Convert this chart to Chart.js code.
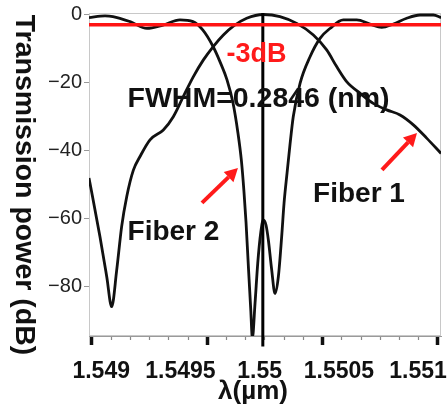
<!DOCTYPE html>
<html>
<head>
<meta charset="utf-8">
<script src="https://cdn.jsdelivr.net/npm/chart.js@4"></script>
<style>
  html, body { margin: 0; padding: 0; background: #fff; }
</style>
</head>
<body>
<canvas id="myChart" width="448" height="415"></canvas>
<script>
// wavelength (µm) / transmission (dB) for the two fibres
const fiber1Wavelength = [
    1.548923, 1.548992, 1.549035, 1.549066, 1.549098, 1.549129, 1.549161, 1.549203,
    1.549245, 1.549308, 1.549392, 1.549455, 1.549518, 1.549581, 1.549644, 1.549707,
    1.549771, 1.549834, 1.549918, 1.550023, 1.550128, 1.550234, 1.550339, 1.550423,
    1.550486, 1.550549, 1.550633, 1.550717, 1.550802, 1.550886, 1.550970, 1.551054,
    1.551145
];
const fiber1Power = [
    -48, -65.2, -77, -85.8, -75, -62.3, -53.5, -45.7,
    -41.7, -36.8, -33.9, -30, -24.1, -18.3, -13.4, -9.4,
    -6, -3.4, -1.1, 0, -0.6, -2.6, -6, -10.4,
    -15.3, -19.7, -23.1, -26.1, -28, -29.5, -32.4, -36.3,
    -40.8
];

const fiber2Wavelength = [
    1.548923, 1.549024, 1.549074, 1.549182, 1.549289, 1.549390, 1.549497, 1.549579,
    1.549642, 1.549706, 1.549750, 1.549794, 1.549832, 1.549863, 1.549885, 1.549901,
    1.549914, 1.549930, 1.549944, 1.549954, 1.549971, 1.549988, 1.550007, 1.550023,
    1.550040, 1.550055, 1.550076, 1.550097, 1.550118, 1.550139, 1.550154, 1.550173,
    1.550192, 1.550212, 1.550255, 1.550318, 1.550381, 1.550444, 1.550528, 1.550613,
    1.550696, 1.550770, 1.550844, 1.550928, 1.551012, 1.551096, 1.551145
];
const fiber2Power = [
    -0.9, -0.4, -0.6, -2.1, -4.1, -3.1, -1.6, -2.1,
    -4.6, -9.4, -13.9, -19.2, -26, -34.8, -43, -52,
    -61, -75, -86.8, -95, -84.7, -73, -64, -60.3,
    -61.8, -66.2, -75, -81.9, -77, -65.2, -55.4, -46.5,
    -38, -30, -20.2, -12.4, -7, -4.1, -1.6, -1.6,
    -2.8, -3.8, -2.8, -1.1, -0.15, -0.15, -0.9
];

const cutoffLevel = -3;          // dB
const centerWavelength = 1.55002; // µm
const xRange = [1.548923, 1.5511445];
const yRange = [-94.4, 0.44];
const xTickValues = [1.549, 1.5495, 1.55, 1.5505, 1.551];
const yTickValues = [-80, -60, -40, -20, 0];

// text and arrows placed in data units
const notes = [
    { text: '-3dB', x: 1.549980, y: -13.9, size: 27, color: '#ff1a1a' },
    { text: 'FWHM=0.2846 (nm)', x: 1.549993, y: -27.2, size: 28.5, color: '#111' },
    { text: 'Fiber 1', x: 1.550627, y: -55, size: 28, color: '#111' },
    { text: 'Fiber 2', x: 1.549456, y: -66.2, size: 28, color: '#111' }
];
const arrows = [
    { from: [1.550772, -45.6], to: [1.550993, -34.8] },
    { from: [1.549636, -55.3], to: [1.549863, -45.1] }
];

const FONT = '"Liberation Sans", Arial, sans-serif';
Chart.defaults.font.family = FONT;

const toPoints = (xs, ys) => xs.map((v, i) => ({ x: v, y: ys[i] }));

function drawArrow(ctx, x1, y1, x2, y2) {
    const ang = Math.atan2(y2 - y1, x2 - x1);
    const headLen = 13, headW = 7;
    const bx = x2 - headLen * Math.cos(ang), by = y2 - headLen * Math.sin(ang);
    ctx.strokeStyle = '#ff1a1a';
    ctx.fillStyle = '#ff1a1a';
    ctx.lineWidth = 4;
    ctx.beginPath();
    ctx.moveTo(x1, y1);
    ctx.lineTo(bx, by);
    ctx.stroke();
    ctx.beginPath();
    ctx.moveTo(x2, y2);
    ctx.lineTo(bx + headW * Math.sin(ang), by - headW * Math.cos(ang));
    ctx.lineTo(bx - headW * Math.sin(ang), by + headW * Math.cos(ang));
    ctx.closePath();
    ctx.fill();
}

const notesPlugin = {
    id: 'notes',
    beforeDatasetsDraw(chart) {
        const { ctx, chartArea: a } = chart;
        ctx.save();
        ctx.strokeStyle = '#c8c8c8';
        ctx.lineWidth = 1;
        ctx.strokeRect(a.left + 0.5, a.top + 0.5, a.width - 1, a.height - 1);
        ctx.restore();
    },
    afterDatasetsDraw(chart) {
        const { ctx, scales: { x, y } } = chart;
        ctx.save();
        arrows.forEach(ar => drawArrow(ctx,
            x.getPixelForValue(ar.from[0]), y.getPixelForValue(ar.from[1]),
            x.getPixelForValue(ar.to[0]), y.getPixelForValue(ar.to[1])));

        ctx.textAlign = 'center';
        ctx.textBaseline = 'alphabetic';
        notes.forEach(n => {
            ctx.font = 'bold ' + n.size + 'px ' + FONT;
            ctx.fillStyle = n.color;
            ctx.fillText(n.text, x.getPixelForValue(n.x), y.getPixelForValue(n.y));
        });

        // axis titles
        ctx.fillStyle = '#111';
        ctx.font = 'bold 26px ' + FONT;
        ctx.fillText('λ(µm)', 253, 399);

        ctx.translate(15.5, 185);
        ctx.rotate(Math.PI / 2);
        ctx.font = 'bold 28.5px ' + FONT;
        ctx.fillText('Transmission power (dB)', 0, 0);
        ctx.restore();
    }
};

const isMajor = c => c.tick && c.tick.value % 6 === 0;

const chart = new Chart(document.getElementById('myChart'), {
    type: 'line',
    data: {
        datasets: [
            {
                label: '-3dB',
                data: [{ x: xRange[0], y: cutoffLevel }, { x: xRange[1], y: cutoffLevel }],
                borderColor: '#ff1414',
                borderWidth: 3.5,
                order: 0
            },
            {
                label: 'center',
                data: [{ x: centerWavelength, y: yRange[1] }, { x: centerWavelength, y: -97.5 }],
                borderColor: '#000',
                borderWidth: 3,
                clip: false,
                order: 1
            },
            {
                label: 'Fiber 1',
                data: toPoints(fiber1Wavelength, fiber1Power),
                borderColor: '#111',
                borderWidth: 2.8,
                cubicInterpolationMode: 'monotone',
                order: 2
            },
            {
                label: 'Fiber 2',
                data: toPoints(fiber2Wavelength, fiber2Power),
                borderColor: '#111',
                borderWidth: 2.8,
                cubicInterpolationMode: 'monotone',
                order: 2
            }
        ]
    },
    options: {
        responsive: false,
        animation: false,
        devicePixelRatio: 1,
        elements: { point: { radius: 0 } },
        layout: { padding: { top: 13, right: 7, left: 0, bottom: 0 } },
        plugins: { legend: { display: false }, tooltip: { enabled: false } },
        scales: {
            x: {
                type: 'linear',
                position: 'bottom',
                weight: 1,
                min: xRange[0],
                max: xRange[1],
                afterBuildTicks: s => { s.ticks = xTickValues.map(v => ({ value: v })); },
                afterFit: s => { s.height = 70; s.paddingLeft = 0; s.paddingRight = 0; },
                ticks: {
                    callback: v => String(v),
                    font: { size: 23, weight: 'bold' },
                    color: '#111',
                    padding: 13,
                    maxRotation: 0,
                    autoSkip: false
                },
                grid: { display: false, drawTicks: false },
                border: { display: false }
            },
            // tick marks along the bottom edge (major every 6th mark)
            xt: {
                type: 'linear',
                position: 'bottom',
                weight: 0,
                min: -0.156,
                max: 18.16,
                afterBuildTicks: s => { s.ticks = Array.from({ length: 19 }, (_, i) => ({ value: i })); },
                afterFit: s => { s.paddingLeft = 0; s.paddingRight = 0; },
                ticks: { display: false },
                grid: {
                    drawOnChartArea: false,
                    drawTicks: true,
                    tickLength: 9,
                    tickWidth: c => isMajor(c) ? 3.5 : 1.2,
                    tickColor: c => isMajor(c) ? '#111' : '#888',
                    tickBorderDash: c => isMajor(c) ? [] : [3, 40]
                },
                border: { display: true, color: '#9a9a9a', width: 1 }
            },
            y: {
                type: 'linear',
                position: 'left',
                min: yRange[0],
                max: yRange[1],
                afterBuildTicks: s => { s.ticks = yTickValues.map(v => ({ value: v })); },
                afterFit: s => { s.width = 89; s.paddingTop = 0; s.paddingBottom = 0; },
                ticks: {
                    callback: v => v < 0 ? '\u2212' + Math.abs(v) : String(v),
                    font: { size: 20 },
                    color: '#222',
                    padding: 2
                },
                grid: {
                    drawOnChartArea: false,
                    drawTicks: true,
                    tickLength: 5,
                    tickColor: '#999'
                },
                border: { display: true, color: '#9a9a9a', width: 1 }
            }
        }
    },
    plugins: [notesPlugin]
});
</script>
</body>
</html>
